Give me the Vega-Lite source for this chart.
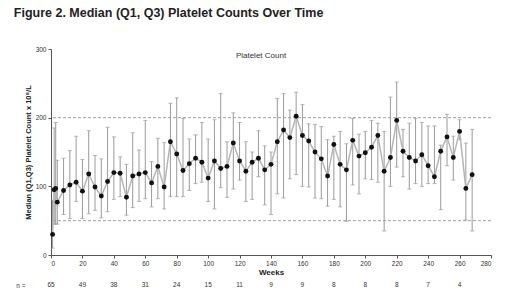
{
  "$schema": "https://vega.github.io/schema/vega-lite/v6.json",
  "padding": {"left": 13, "top": 6, "right": 10, "bottom": 0},
  "background": "white",
  "title": {"text": "Figure 2. Median (Q1, Q3) Platelet Counts Over Time", "anchor": "start", "fontSize": 12.5, "font": "Liberation Sans", "fontWeight": "bold", "color": "#222", "offset": 27, "frame": "bounds", "dx": -2},
  "config": {"view": {"stroke": null}, "font": "Liberation Sans", "concat": {"spacing": 2}},
  "vconcat": [
    {
      "width": 440,
      "height": 206,
      "title": {"text": "Platelet Count", "fontSize": 8, "fontWeight": "normal", "color": "#333", "offset": -14, "dx": -10},
      "data": {"values": [
        {"w": 1, "med": 30, "q1": 10, "q3": 80},
        {"w": 2, "med": 95, "q1": 45, "q3": 185},
        {"w": 3, "med": 97, "q1": 45, "q3": 193},
        {"w": 4, "med": 77, "q1": 45, "q3": 138},
        {"w": 8, "med": 94, "q1": 59, "q3": 141},
        {"w": 12, "med": 102, "q1": 53, "q3": 152},
        {"w": 16, "med": 106, "q1": 78, "q3": 173},
        {"w": 20, "med": 93, "q1": 53, "q3": 139},
        {"w": 24, "med": 118, "q1": 60, "q3": 181},
        {"w": 28, "med": 99, "q1": 65, "q3": 145},
        {"w": 32, "med": 86, "q1": 54, "q3": 140},
        {"w": 36, "med": 107, "q1": 63, "q3": 186},
        {"w": 40, "med": 120, "q1": 81, "q3": 172},
        {"w": 44, "med": 119, "q1": 85, "q3": 143},
        {"w": 48, "med": 84, "q1": 58, "q3": 132},
        {"w": 52, "med": 115, "q1": 69, "q3": 178},
        {"w": 56, "med": 118, "q1": 78, "q3": 153},
        {"w": 60, "med": 120, "q1": 82, "q3": 196},
        {"w": 64, "med": 105, "q1": 70, "q3": 136},
        {"w": 68, "med": 129, "q1": 82, "q3": 170},
        {"w": 72, "med": 99, "q1": 67, "q3": 164},
        {"w": 76, "med": 165, "q1": 85, "q3": 221},
        {"w": 80, "med": 147, "q1": 85, "q3": 229},
        {"w": 84, "med": 123, "q1": 85, "q3": 199},
        {"w": 88, "med": 133, "q1": 94, "q3": 169},
        {"w": 92, "med": 141, "q1": 104, "q3": 175},
        {"w": 96, "med": 135, "q1": 106, "q3": 193},
        {"w": 100, "med": 112, "q1": 78, "q3": 169},
        {"w": 104, "med": 137, "q1": 67, "q3": 197},
        {"w": 108, "med": 126, "q1": 98, "q3": 235},
        {"w": 112, "med": 129, "q1": 84, "q3": 165},
        {"w": 116, "med": 163, "q1": 96, "q3": 207},
        {"w": 120, "med": 137, "q1": 109, "q3": 193},
        {"w": 124, "med": 122, "q1": 78, "q3": 165},
        {"w": 128, "med": 135, "q1": 81, "q3": 150},
        {"w": 132, "med": 141, "q1": 114, "q3": 181},
        {"w": 136, "med": 124, "q1": 73, "q3": 159},
        {"w": 140, "med": 132, "q1": 59, "q3": 150},
        {"w": 144, "med": 165, "q1": 89, "q3": 228},
        {"w": 148, "med": 182, "q1": 83, "q3": 235},
        {"w": 152, "med": 171, "q1": 111, "q3": 211},
        {"w": 156, "med": 202, "q1": 117, "q3": 237},
        {"w": 160, "med": 174, "q1": 100, "q3": 219},
        {"w": 164, "med": 166, "q1": 99, "q3": 191},
        {"w": 168, "med": 150, "q1": 83, "q3": 190},
        {"w": 172, "med": 140, "q1": 82, "q3": 187},
        {"w": 176, "med": 115, "q1": 71, "q3": 168},
        {"w": 180, "med": 161, "q1": 81, "q3": 173},
        {"w": 184, "med": 132, "q1": 70, "q3": 180},
        {"w": 188, "med": 124, "q1": 49, "q3": 162},
        {"w": 192, "med": 167, "q1": 102, "q3": 199},
        {"w": 196, "med": 144, "q1": 89, "q3": 176},
        {"w": 200, "med": 149, "q1": 111, "q3": 180},
        {"w": 204, "med": 157, "q1": 110, "q3": 196},
        {"w": 208, "med": 174, "q1": 106, "q3": 192},
        {"w": 212, "med": 122, "q1": 35, "q3": 180},
        {"w": 216, "med": 142, "q1": 100, "q3": 230},
        {"w": 220, "med": 196, "q1": 128, "q3": 252},
        {"w": 224, "med": 151, "q1": 114, "q3": 183},
        {"w": 228, "med": 142, "q1": 96, "q3": 192},
        {"w": 232, "med": 137, "q1": 104, "q3": 199},
        {"w": 236, "med": 146, "q1": 100, "q3": 193},
        {"w": 240, "med": 130, "q1": 104, "q3": 188},
        {"w": 244, "med": 114, "q1": 104, "q3": 188},
        {"w": 248, "med": 151, "q1": 66, "q3": 160},
        {"w": 252, "med": 172, "q1": 130, "q3": 205},
        {"w": 256, "med": 142, "q1": 109, "q3": 173},
        {"w": 260, "med": 180, "q1": 168, "q3": 197},
        {"w": 264, "med": 97, "q1": 51, "q3": 163},
        {"w": 268, "med": 117, "q1": 35, "q3": 183}
      ]},
      "encoding": {
        "x": {"field": "w", "type": "quantitative", "scale": {"domain": [0, 280], "nice": false},
          "axis": {"values": [0, 20, 40, 60, 80, 100, 120, 140, 160, 180, 200, 220, 240, 260, 280], "title": "Weeks", "titleFontSize": 8, "titleFontWeight": "bold", "titleColor": "#222", "titlePadding": 2, "labelFontSize": 6.5, "labelColor": "#333", "tickSize": 3, "grid": false, "domainColor": "#555", "tickColor": "#555", "labelPadding": 2}}
      },
      "layer": [
        {
          "data": {"values": [{"ref": 200}, {"ref": 50}]},
          "mark": {"type": "rule", "color": "#888", "strokeDash": [3, 2], "strokeWidth": 0.8},
          "encoding": {"x": null, "y": {"field": "ref", "type": "quantitative"}}
        },
        {
          "mark": {"type": "rule", "color": "#9a9a9a", "strokeWidth": 1},
          "encoding": {
            "y": {"field": "q1", "type": "quantitative", "scale": {"domain": [0, 300], "nice": false},
              "axis": {"values": [0, 50, 100, 150, 200, 250, 300], "title": "Median (Q1,Q3)  Platelet Count x 10⁹/L", "titleFontSize": 7.5, "titleFontWeight": "bold", "titleColor": "#222", "titlePadding": 3, "labelFontSize": 6.5, "labelColor": "#333", "tickSize": 3, "grid": false, "domainColor": "#555", "tickColor": "#555", "labelPadding": 2}},
            "y2": {"field": "q3"}
          }
        },
        {
          "mark": {"type": "tick", "orient": "horizontal", "color": "#9a9a9a", "size": 4, "thickness": 1},
          "encoding": {"y": {"field": "q1", "type": "quantitative"}}
        },
        {
          "mark": {"type": "tick", "orient": "horizontal", "color": "#9a9a9a", "size": 4, "thickness": 1},
          "encoding": {"y": {"field": "q3", "type": "quantitative"}}
        },
        {
          "mark": {"type": "line", "color": "#b5b5b5", "strokeWidth": 1.5},
          "encoding": {"y": {"field": "med", "type": "quantitative"}}
        },
        {
          "mark": {"type": "point", "filled": true, "color": "#111", "size": 24, "opacity": 1},
          "encoding": {"y": {"field": "med", "type": "quantitative"}}
        }
      ]
    },
    {
      "width": 440,
      "height": 12,
      "data": {"values": [
        {"w": 0, "n": "65", "row": "n ="},
        {"w": 20, "n": "49", "row": "n ="},
        {"w": 40, "n": "38", "row": "n ="},
        {"w": 60, "n": "31", "row": "n ="},
        {"w": 80, "n": "24", "row": "n ="},
        {"w": 100, "n": "15", "row": "n ="},
        {"w": 120, "n": "11", "row": "n ="},
        {"w": 140, "n": "9", "row": "n ="},
        {"w": 160, "n": "9", "row": "n ="},
        {"w": 180, "n": "8", "row": "n ="},
        {"w": 200, "n": "8", "row": "n ="},
        {"w": 220, "n": "8", "row": "n ="},
        {"w": 240, "n": "7", "row": "n ="},
        {"w": 260, "n": "4", "row": "n ="}
      ]},
      "mark": {"type": "text", "fontSize": 6.5, "color": "#333"},
      "encoding": {
        "x": {"field": "w", "type": "quantitative", "scale": {"domain": [0, 280], "nice": false}, "axis": null},
        "y": {"field": "row", "type": "nominal", "axis": {"title": null, "domain": false, "ticks": false, "labelFontSize": 6.5, "labelColor": "#333", "labelPadding": 26}},
        "text": {"field": "n"}
      }
    }
  ]
}
